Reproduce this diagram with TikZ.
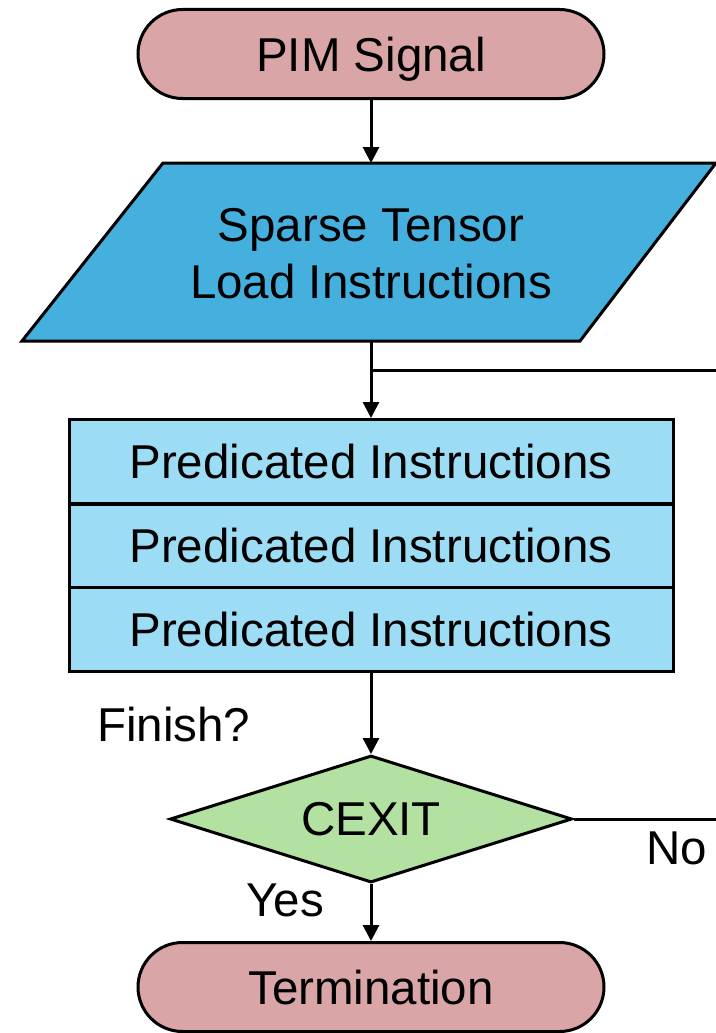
\documentclass[tikz,border=0pt]{standalone}
\usepackage{fontspec}
\setmainfont{Liberation Sans}
\usetikzlibrary{shapes.geometric,arrows.meta}
\definecolor{termpink}{HTML}{D9A5A7}
\definecolor{loadblue}{HTML}{45AFDE}
\definecolor{predblue}{HTML}{9DDCF5}
\definecolor{decgreen}{HTML}{B3E1A1}
\tikzset{
  big/.style={font=\fontsize{47.5}{52}\selectfont},
  terminal/.style={big, draw, line width=3pt, fill=termpink, minimum width=466pt,
    minimum height=89pt, rounded corners=44.5pt, inner sep=0pt,
    text height=41pt, text depth=7pt},
  predbox/.style={big, draw, line width=3pt, fill=predblue, minimum width=604pt,
    minimum height=84pt, inner sep=0pt},
  decision/.style={big, diamond, draw, line width=3pt, fill=decgreen, aspect=3.2,
    minimum width=402pt, minimum height=127pt, inner sep=0pt},
  link/.style={line width=3pt},
  arrowlink/.style={link, -{Triangle[width=16pt,length=16pt]}},
  plain/.style={big, inner sep=0pt}
}
\begin{document}
\begin{tikzpicture}[x=1pt,y=-1pt]
  \useasboundingbox (0,0) rectangle (715,1033);
  % start terminal
  \node[terminal] (pim) at (371,54) {PIM Signal};
  % input/output parallelogram
  \draw[line width=3pt, fill=loadblue, line join=miter]
    (163,163) -- (716,163) -- (580,341) -- (22,341) -- cycle;
  \node[plain, align=center, font=\fontsize{47.5}{57}\selectfont] (load) at (371,254)
    {Sparse Tensor\\Load Instructions};
  \coordinate (loadtop) at (371,163);
  \coordinate (loadbot) at (371,341);
  % predicated instruction stack
  \node[predbox] (p1) at (371,461.5) {Predicated Instructions};
  \node[predbox] (p2) at (371,546) {Predicated Instructions};
  \node[predbox] (p3) at (371,629.5) {Predicated Instructions};
  % exit test
  \node[decision] (cexit) at (371,819) {CEXIT};
  % end terminal
  \node[terminal] (term) at (371,987) {Termination};
  % labels
  \node[plain, anchor=west] (finish) at (97,725) {Finish?};
  \node[plain] (yes) at (285,900) {Yes};
  \node[plain] (no) at (677,848) {No};
  % connectors
  \coordinate (branch) at (371,370);
  \coordinate (loopout) at (716,370);
  \coordinate (noout) at (716,819);
  \draw[arrowlink] (pim.south) -- (loadtop);
  \draw[link] (loadbot) -- (branch);
  \draw[arrowlink] (branch) -- (p1.north);
  \draw[link] (branch) -- (loopout);
  \draw[arrowlink] (p3.south) -- (cexit.north);
  \draw[link] (cexit.east) -- (noout);
  \draw[arrowlink] (cexit.south) -- (term.north);
\end{tikzpicture}
\end{document}
